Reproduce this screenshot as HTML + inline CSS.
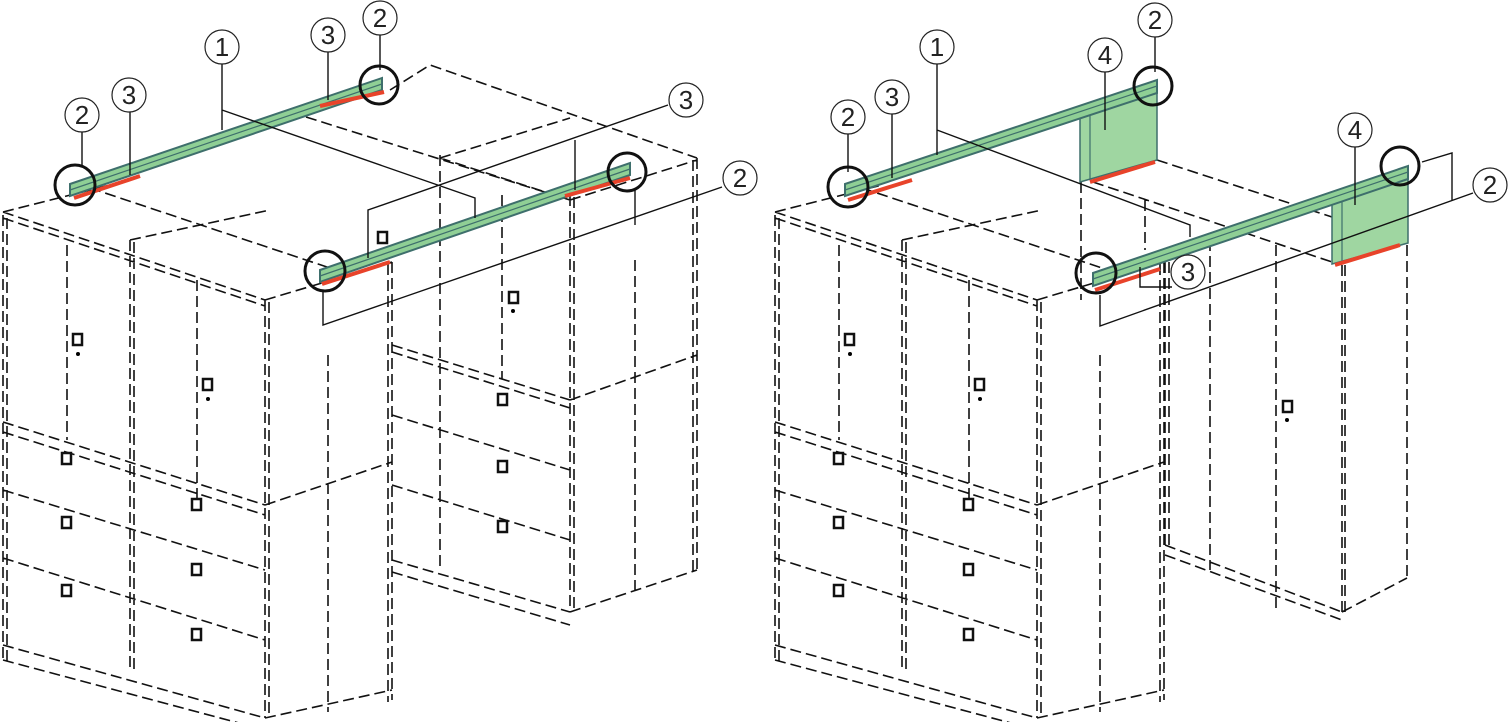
<!DOCTYPE html>
<html><head><meta charset="utf-8"><style>
html,body{margin:0;padding:0;background:#fff;width:1512px;height:722px;overflow:hidden}
svg{display:block}
.d{stroke:#111;stroke-width:1.6;fill:none;stroke-dasharray:11 5}
.s{stroke:#111;stroke-width:1.4;fill:none}
.c{stroke:#111;stroke-width:3;fill:none}
.lb{fill:#fff;stroke:#222;stroke-width:1.2}
.t{font-family:"Liberation Sans",sans-serif;font-size:26px;fill:#222;text-anchor:middle}
.h{fill:#fff;stroke:#111;stroke-width:2.5}
</style></head><body>
<svg width="1512" height="722" viewBox="0 0 1512 722" xmlns="http://www.w3.org/2000/svg">
<defs>
<g id="fb">
 <path class="d" d="M3 215V660M7 218V662M3 212L265 300M3 218L265 306M3 212L110 185M90 188L330 268M265 300L392 262M130 240L270 210M130 240V670M134 242V672M265 300V718M269 302V718M392 262V700M388 264V702M3 645L265 718M3 660L265 730M265 718L392 690M67 245V440M197 280V505M3 422L265 505M3 432L265 515M3 490L265 570M3 558L265 640M265 505L392 462M328 355V712"/>
 <g>
  <rect class="h" x="73" y="334" width="9" height="11"/><rect class="h" x="203" y="379" width="9" height="11"/>
  <rect class="h" x="62" y="453" width="9" height="11"/><rect class="h" x="62" y="517" width="9" height="11"/><rect class="h" x="62" y="585" width="9" height="11"/>
  <rect class="h" x="192" y="499" width="9" height="11"/><rect class="h" x="192" y="564" width="9" height="11"/><rect class="h" x="192" y="629" width="9" height="11"/>
  <circle cx="78" cy="354" r="2"/><circle cx="208" cy="399" r="2"/>
 </g>
</g>
</defs>

<!-- LEFT FIGURE -->
<use href="#fb"/>
<path class="d" d="M390 90L430 65L697 158M440 158L570 118M440 158L570 200M570 200L697 160M306 117L570 200M392 345L570 400M392 352L570 408M392 415L570 470M392 485L570 540M392 560L570 612M392 572L570 625M440 155V570M502 195V380M570 195V612M574 197V612M697 158V570M693 160V572M635 260V590M570 400L697 355M570 612L697 570"/>
<rect class="h" x="378" y="232" width="9" height="11"/><rect class="h" x="509" y="292" width="9" height="11"/><circle cx="513" cy="311" r="2"/>
<rect class="h" x="498" y="394" width="9" height="11"/><rect class="h" x="498" y="461" width="9" height="11"/><rect class="h" x="498" y="521" width="9" height="11"/>
<!-- beams -->
<polygon points="70,184 382,78 382,90 70,196" fill="#8fcf95" stroke="#3e6f6c" stroke-width="2"/>
<line x1="70" y1="190" x2="382" y2="84" stroke="#3e6f6c" stroke-width="1.2"/>
<polygon points="320,270 630,163 630,175 320,282" fill="#8fcf95" stroke="#3e6f6c" stroke-width="2"/>
<line x1="320" y1="276" x2="630" y2="169" stroke="#3e6f6c" stroke-width="1.2"/>
<g stroke="#e8432a" stroke-width="4"><line x1="74" y1="198" x2="140" y2="176"/><line x1="320" y1="106" x2="384" y2="92"/><line x1="322" y1="284" x2="390" y2="262"/><line x1="565" y1="196" x2="630" y2="178"/></g>
<circle class="c" cx="75" cy="185" r="20"/><circle class="c" cx="379" cy="85" r="19"/><circle class="c" cx="325" cy="271" r="20"/><circle class="c" cx="627" cy="172" r="19"/>
<path class="s" d="M82 132V165M130 112V175M222 64V130M222 110L475 198V218M328 52V100M380 35V70M668 105L368 210V258M575 140V190M722 187L323 325V290M635 190V225"/>
<g><circle class="lb" cx="82" cy="115" r="17"/><text class="t" x="82" y="124">2</text>
<circle class="lb" cx="129" cy="95" r="17"/><text class="t" x="129" y="104">3</text>
<circle class="lb" cx="222" cy="47" r="17"/><text class="t" x="222" y="56">1</text>
<circle class="lb" cx="328" cy="35" r="17"/><text class="t" x="328" y="44">3</text>
<circle class="lb" cx="380" cy="18" r="17"/><text class="t" x="380" y="27">2</text>
<circle class="lb" cx="686" cy="100" r="17"/><text class="t" x="686" y="109">3</text>
<circle class="lb" cx="740" cy="178" r="17"/><text class="t" x="740" y="187">2</text></g>

<!-- RIGHT FIGURE -->
<use href="#fb" transform="translate(772,0)"/>
<path class="d" d="M1157 160L1332 217M1093 182L1332 262M1081 182V300M1145 200V250M1165 262V545M1169 262V547M1210 240V570M1276 245V610M1342 265V612M1345 265V612M1407 245V578M1165 545L1342 612M1165 555L1342 620M1342 612L1407 578"/>
<rect class="h" x="1283" y="401" width="9" height="11"/><circle cx="1287" cy="420" r="2"/>
<!-- panels -->
<polygon points="1080,116 1157,92 1157,160 1080,182" fill="#9fd6a1" stroke="#3e6f6c" stroke-width="1.5"/>
<line x1="1090" y1="113" x2="1090" y2="180" stroke="#3e6f6c" stroke-width="1.2"/>
<polygon points="1332,200 1408,176 1408,243 1332,264" fill="#9fd6a1" stroke="#3e6f6c" stroke-width="1.5"/>
<line x1="1342" y1="197" x2="1342" y2="261" stroke="#3e6f6c" stroke-width="1.2"/>
<polygon points="845,184 1157,80 1157,93 845,196" fill="#8fcf95" stroke="#3e6f6c" stroke-width="2"/>
<line x1="845" y1="190" x2="1157" y2="86" stroke="#3e6f6c" stroke-width="1.2"/>
<polygon points="1093,273 1408,166 1408,179 1093,286" fill="#8fcf95" stroke="#3e6f6c" stroke-width="2"/>
<line x1="1093" y1="279" x2="1408" y2="172" stroke="#3e6f6c" stroke-width="1.2"/>
<g stroke="#e8432a" stroke-width="4"><line x1="848" y1="200" x2="912" y2="180"/><line x1="1090" y1="182" x2="1155" y2="162"/><line x1="1095" y1="290" x2="1160" y2="269"/><line x1="1335" y1="265" x2="1400" y2="245"/></g>
<circle class="c" cx="848" cy="187" r="20"/><circle class="c" cx="1153" cy="86" r="19"/><circle class="c" cx="1096" cy="273" r="20"/><circle class="c" cx="1400" cy="166" r="19"/>
<path class="s" d="M848 134V172M892 114V178M937 64V155M937 130L1190 225V237M1155 37V72M1105 72V130M1355 147V205M1422 162L1452 153V200M1473 193L1100 326V295M1140 267V287H1172"/>
<g><circle class="lb" cx="848" cy="117" r="17"/><text class="t" x="848" y="126">2</text>
<circle class="lb" cx="892" cy="97" r="17"/><text class="t" x="892" y="106">3</text>
<circle class="lb" cx="937" cy="47" r="17"/><text class="t" x="937" y="56">1</text>
<circle class="lb" cx="1105" cy="55" r="17"/><text class="t" x="1105" y="64">4</text>
<circle class="lb" cx="1155" cy="20" r="17"/><text class="t" x="1155" y="29">2</text>
<circle class="lb" cx="1355" cy="130" r="17"/><text class="t" x="1355" y="139">4</text>
<circle class="lb" cx="1490" cy="185" r="17"/><text class="t" x="1490" y="194">2</text>
<circle class="lb" cx="1188" cy="272" r="17"/><text class="t" x="1188" y="281">3</text></g>
</svg>
</body></html>
